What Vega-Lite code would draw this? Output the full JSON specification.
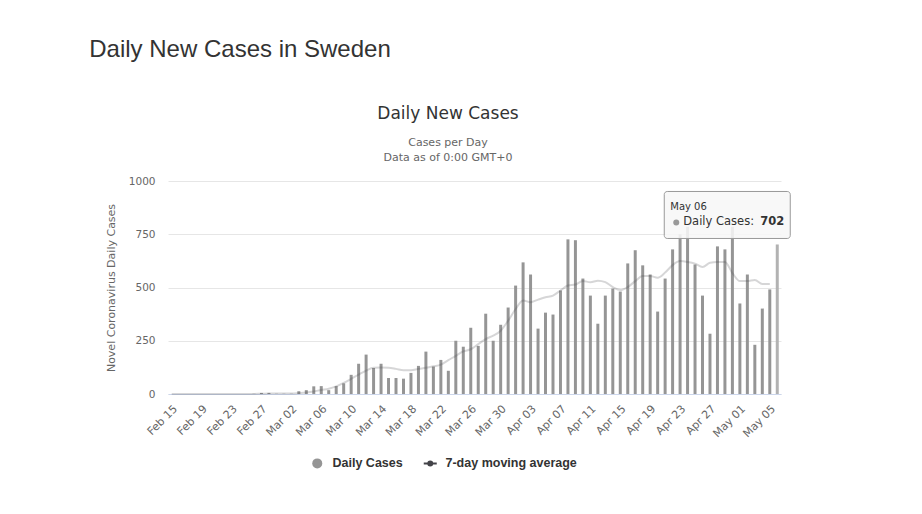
{
  "$schema": "https://vega.github.io/schema/vega-lite/v6.json",
  "background": "white",
  "padding": {"left": 89, "top": 38, "right": 10, "bottom": 10},
  "title": {"text": "Daily New Cases in Sweden", "anchor": "start", "font": "Liberation Sans", "fontSize": 24, "fontWeight": "normal", "color": "#333333", "dx": -16, "offset": 43},
  "config": {"view": {"stroke": null}, "concat": {"spacing": 0}},
  "data": {
    "values": [
      {"date": "Feb 15", "cases": 0, "avg": 0},
      {"date": "Feb 16", "cases": 0, "avg": 0},
      {"date": "Feb 17", "cases": 0, "avg": 0},
      {"date": "Feb 18", "cases": 0, "avg": 0},
      {"date": "Feb 19", "cases": 0, "avg": 0},
      {"date": "Feb 20", "cases": 0, "avg": 0},
      {"date": "Feb 21", "cases": 0, "avg": 0},
      {"date": "Feb 22", "cases": 0, "avg": 0},
      {"date": "Feb 23", "cases": 0, "avg": 0},
      {"date": "Feb 24", "cases": 0, "avg": 0},
      {"date": "Feb 25", "cases": 0, "avg": 0},
      {"date": "Feb 26", "cases": 1, "avg": 0},
      {"date": "Feb 27", "cases": 5, "avg": 1},
      {"date": "Feb 28", "cases": 5, "avg": 2},
      {"date": "Feb 29", "cases": 1, "avg": 2},
      {"date": "Mar 01", "cases": 1, "avg": 2},
      {"date": "Mar 02", "cases": 1, "avg": 2},
      {"date": "Mar 03", "cases": 13, "avg": 4},
      {"date": "Mar 04", "cases": 18, "avg": 7},
      {"date": "Mar 05", "cases": 36, "avg": 12},
      {"date": "Mar 06", "cases": 37, "avg": 19},
      {"date": "Mar 07", "cases": 18, "avg": 25},
      {"date": "Mar 08", "cases": 37, "avg": 36},
      {"date": "Mar 09", "cases": 50, "avg": 52},
      {"date": "Mar 10", "cases": 90, "avg": 71},
      {"date": "Mar 11", "cases": 142, "avg": 91},
      {"date": "Mar 12", "cases": 185, "avg": 110},
      {"date": "Mar 13", "cases": 122, "avg": 123},
      {"date": "Mar 14", "cases": 142, "avg": 124},
      {"date": "Mar 15", "cases": 75, "avg": 123},
      {"date": "Mar 16", "cases": 75, "avg": 118},
      {"date": "Mar 17", "cases": 72, "avg": 112},
      {"date": "Mar 18", "cases": 99, "avg": 112},
      {"date": "Mar 19", "cases": 132, "avg": 118},
      {"date": "Mar 20", "cases": 199, "avg": 123},
      {"date": "Mar 21", "cases": 129, "avg": 130},
      {"date": "Mar 22", "cases": 160, "avg": 138},
      {"date": "Mar 23", "cases": 109, "avg": 159},
      {"date": "Mar 24", "cases": 250, "avg": 179},
      {"date": "Mar 25", "cases": 222, "avg": 200},
      {"date": "Mar 26", "cases": 311, "avg": 210},
      {"date": "Mar 27", "cases": 226, "avg": 234},
      {"date": "Mar 28", "cases": 377, "avg": 258},
      {"date": "Mar 29", "cases": 250, "avg": 274},
      {"date": "Mar 30", "cases": 325, "avg": 297},
      {"date": "Mar 31", "cases": 406, "avg": 344},
      {"date": "Apr 01", "cases": 509, "avg": 399},
      {"date": "Apr 02", "cases": 618, "avg": 439},
      {"date": "Apr 03", "cases": 561, "avg": 431},
      {"date": "Apr 04", "cases": 307, "avg": 443},
      {"date": "Apr 05", "cases": 382, "avg": 454},
      {"date": "Apr 06", "cases": 373, "avg": 462},
      {"date": "Apr 07", "cases": 486, "avg": 486},
      {"date": "Apr 08", "cases": 726, "avg": 509},
      {"date": "Apr 09", "cases": 722, "avg": 514},
      {"date": "Apr 10", "cases": 542, "avg": 530},
      {"date": "Apr 11", "cases": 462, "avg": 525},
      {"date": "Apr 12", "cases": 330, "avg": 532},
      {"date": "Apr 13", "cases": 462, "avg": 525},
      {"date": "Apr 14", "cases": 495, "avg": 502},
      {"date": "Apr 15", "cases": 481, "avg": 488},
      {"date": "Apr 16", "cases": 613, "avg": 502},
      {"date": "Apr 17", "cases": 675, "avg": 530},
      {"date": "Apr 18", "cases": 604, "avg": 554},
      {"date": "Apr 19", "cases": 561, "avg": 554},
      {"date": "Apr 20", "cases": 387, "avg": 546},
      {"date": "Apr 21", "cases": 542, "avg": 570},
      {"date": "Apr 22", "cases": 679, "avg": 605},
      {"date": "Apr 23", "cases": 750, "avg": 624},
      {"date": "Apr 24", "cases": 785, "avg": 620},
      {"date": "Apr 25", "cases": 608, "avg": 612},
      {"date": "Apr 26", "cases": 462, "avg": 596},
      {"date": "Apr 27", "cases": 283, "avg": 616},
      {"date": "Apr 28", "cases": 693, "avg": 620},
      {"date": "Apr 29", "cases": 679, "avg": 620},
      {"date": "Apr 30", "cases": 785, "avg": 568},
      {"date": "May 01", "cases": 425, "avg": 530},
      {"date": "May 02", "cases": 561, "avg": 530},
      {"date": "May 03", "cases": 231, "avg": 535},
      {"date": "May 04", "cases": 401, "avg": 516},
      {"date": "May 05", "cases": 491, "avg": 516},
      {"date": "May 06", "cases": 702, "avg": null}
    ]
  },
  "vconcat": [
    {
      "width": 613,
      "height": 213,
      "title": {
        "text": "Daily New Cases",
        "subtitle": ["Cases per Day", "Data as of 0:00 GMT+0"],
        "anchor": "middle",
        "frame": "bounds",
        "font": "DejaVu Sans",
        "fontSize": 17,
        "fontWeight": "normal",
        "color": "#333333",
        "subtitleFont": "DejaVu Sans",
        "subtitleFontSize": 11,
        "subtitleColor": "#666666",
        "subtitlePadding": 14,
        "subtitleLineHeight": 15,
        "offset": 12
      },
      "encoding": {
        "x": {
          "field": "date",
          "type": "nominal",
          "sort": null,
          "scale": {"paddingInner": 0, "paddingOuter": 0},
          "axis": {
            "title": null,
            "values": ["Feb 15", "Feb 19", "Feb 23", "Feb 27", "Mar 02", "Mar 06", "Mar 10", "Mar 14", "Mar 18", "Mar 22", "Mar 26", "Mar 30", "Apr 03", "Apr 07", "Apr 11", "Apr 15", "Apr 19", "Apr 23", "Apr 27", "May 01", "May 05"],
            "labelAngle": -45,
            "labelAlign": "right",
            "labelBaseline": "middle",
            "labelFont": "DejaVu Sans",
            "labelFontSize": 11,
            "labelColor": "#666666",
            "labelPadding": 13,
            "labelOffset": 4,
            "ticks": false,
            "grid": false,
            "domainColor": "#ccd6eb"
          }
        },
        "y": {
          "field": "cases",
          "type": "quantitative",
          "scale": {"domain": [0, 1000]},
          "axis": {
            "title": "Novel Coronavirus Daily Cases",
            "titleFont": "DejaVu Sans",
            "titleFontSize": 11,
            "titleFontWeight": "normal",
            "titleColor": "#666666",
            "titlePadding": 12,
            "values": [0, 250, 500, 750, 1000],
            "format": "d",
            "labelFont": "DejaVu Sans",
            "labelFontSize": 10.5,
            "labelColor": "#666666",
            "labelPadding": 13,
            "domain": false,
            "ticks": false,
            "gridColor": "#e6e6e6"
          }
        }
      },
      "layer": [
        {
          "mark": {"type": "bar", "width": {"band": 0.4}},
          "encoding": {
            "color": {
              "condition": {"test": "datum.date === 'May 06'", "value": "#b2b2b2"},
              "datum": "Daily Cases",
              "type": "nominal",
              "scale": {"domain": ["Daily Cases", "7-day moving average"], "range": ["#959595", "#434348"]},
              "legend": {
                "title": null,
                "orient": "none",
                "legendX": 143,
                "legendY": 276,
                "direction": "horizontal",
                "columnPadding": 16,
                "labelOffset": 9,
                "symbolSize": 100,
                "symbolOpacity": 1,
                "labelFont": "Liberation Sans",
                "labelFontSize": 12.5,
                "labelFontWeight": "bold",
                "labelColor": "#333333",
                "encode": {
                  "symbols": {
                    "update": {
                      "shape": {"signal": "datum.value === 'Daily Cases' ? 'circle' : 'M-1.3,0H1.3M-0.4,0A0.4,0.4 0 1,0 0.4,0A0.4,0.4 0 1,0 -0.4,0'"},
                      "fill": {"signal": "datum.value === 'Daily Cases' ? '#999999' : '#434348'"},
                      "stroke": {"signal": "datum.value === 'Daily Cases' ? '#999999' : '#434348'"},
                      "strokeWidth": {"signal": "datum.value === 'Daily Cases' ? 0 : 2"},
                      "opacity": {"value": 1}
                    }
                  }
                }
              }
            }
          }
        },
        {
          "mark": {"type": "line", "strokeWidth": 2, "opacity": 0.22, "interpolate": "monotone"},
          "encoding": {
            "y": {"field": "avg", "type": "quantitative"},
            "color": {"datum": "7-day moving average", "type": "nominal"}
          }
        },
        {
          "transform": [{"filter": "datum.date === 'May 06'"}],
          "mark": {"type": "rect", "fill": "#f7f7f7", "fillOpacity": 0.88, "stroke": "#999999", "strokeWidth": 1, "cornerRadius": 3, "xOffset": -113, "x2Offset": 13, "yOffset": -53, "y2Offset": -6},
          "encoding": {
            "x": {"field": "date", "type": "nominal", "sort": null, "bandPosition": 0.5},
            "x2": {"field": "date", "bandPosition": 0.5},
            "y2": {"field": "cases"}
          }
        },
        {
          "transform": [{"filter": "datum.date === 'May 06'"}],
          "mark": {"type": "text", "align": "left", "baseline": "middle", "dx": -107, "dy": -37, "font": "DejaVu Sans", "fontSize": 10, "color": "#333333"},
          "encoding": {"text": {"field": "date"}}
        },
        {
          "transform": [{"filter": "datum.date === 'May 06'"}],
          "mark": {"type": "circle", "size": 36, "color": "#999999", "opacity": 1, "xOffset": -101, "yOffset": -22},
          "encoding": {}
        },
        {
          "transform": [{"filter": "datum.date === 'May 06'"}],
          "mark": {"type": "text", "align": "left", "baseline": "middle", "dx": -94, "dy": -22, "font": "DejaVu Sans", "fontSize": 11.5, "color": "#333333"},
          "encoding": {"text": {"value": "Daily Cases:"}}
        },
        {
          "transform": [{"filter": "datum.date === 'May 06'"}],
          "mark": {"type": "text", "align": "left", "baseline": "middle", "dx": -17, "dy": -22, "font": "DejaVu Sans", "fontSize": 11.5, "fontWeight": "bold", "color": "#333333"},
          "encoding": {"text": {"field": "cases", "type": "quantitative"}}
        }
      ]
    }
  ]
}
